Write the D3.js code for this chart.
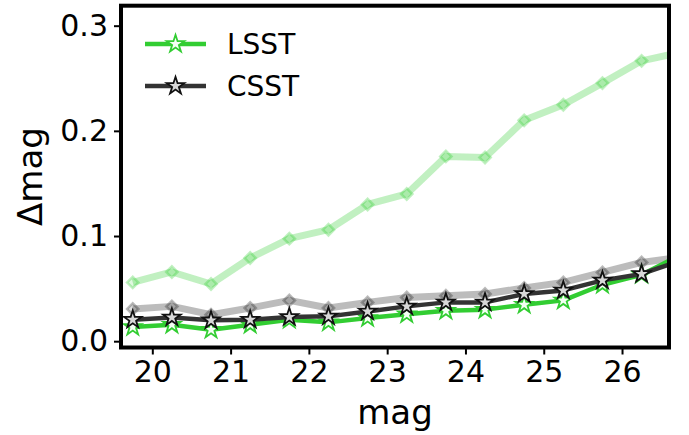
<!DOCTYPE html>
<html>
<head>
<meta charset="utf-8">
<script src="https://cdn.jsdelivr.net/npm/d3@7"></script>
<style>
  body { margin: 0; background: #fff; }
  text { font-family: "DejaVu Sans", sans-serif; fill: #000; }
</style>
</head>
<body>
<svg id="chart" width="689" height="435"></svg>
<script>
// magnitude bins
const mags = [19.75, 20.25, 20.75, 21.25, 21.75, 22.25, 22.75, 23.25, 23.75, 24.25, 24.75, 25.25, 25.75, 26.25, 26.75];
// main series
const lsst = [0.0135, 0.0157, 0.0109, 0.0157, 0.0204, 0.0179, 0.0220, 0.0256, 0.0290, 0.0300, 0.0347, 0.0388, 0.0537, 0.0632, 0.0820];
const csst = [0.0204, 0.0226, 0.0198, 0.0204, 0.0230, 0.0236, 0.0283, 0.0331, 0.0369, 0.0369, 0.0449, 0.0483, 0.0578, 0.0639, 0.0765];
// faded companion series
const lsstFaded = [0.0559, 0.0658, 0.0544, 0.0791, 0.0975, 0.1060, 0.1300, 0.1400, 0.1757, 0.1747, 0.2100, 0.2248, 0.2454, 0.2666, 0.2746];
const csstFaded = [0.0306, 0.0331, 0.0252, 0.0316, 0.0388, 0.0316, 0.0369, 0.0415, 0.0433, 0.0449, 0.0506, 0.0559, 0.0654, 0.0749, 0.0800];
const xTicks = [20, 21, 22, 23, 24, 25, 26];
const yTicks = [0.0, 0.1, 0.2, 0.3];
const legendNames = ["LSST", "CSST"];

const mLeft = 121, mRight = 669, mTop = 5.7, mBottom = 347.5;
const svg = d3.select("#chart");

const x = d3.scaleLinear().domain([19.6, 26.6]).range([mLeft, mRight]);
const y = d3.scaleLinear().domain([-0.006, 0.319]).range([mBottom, mTop]);

svg.append("defs").append("clipPath").attr("id", "clip")
  .append("rect").attr("x", mLeft).attr("y", mTop)
  .attr("width", mRight - mLeft).attr("height", mBottom - mTop);

const plot = svg.append("g").attr("clip-path", "url(#clip)");
const line = d3.line().x((d, i) => x(mags[i])).y(d => y(d));

const diamond = d3.symbol().type(d3.symbolSquare).size(64);
const star = d3.symbol().type(d3.symbolStar).size(95);

// faded series first, alpha on each mark so markers come out darker
function faded(vals, color) {
  plot.append("path").datum(vals).attr("d", line)
    .attr("fill", "none").attr("stroke", color).attr("stroke-width", 7)
    .attr("stroke-linejoin", "round").attr("opacity", 0.3);
  plot.selectAll(null).data(vals).join("path")
    .attr("d", diamond)
    .attr("transform", (d, i) => `translate(${x(mags[i])},${y(d)}) rotate(45)`)
    .attr("fill", color).attr("fill-opacity", 0.15)
    .attr("stroke", color).attr("stroke-opacity", 0.3).attr("stroke-width", 2.5);
}
faded(lsstFaded, "#32cd32");
faded(csstFaded, "#222");

function mainSeries(vals, color, face, edge) {
  plot.append("path").datum(vals).attr("d", line)
    .attr("fill", "none").attr("stroke", color).attr("stroke-width", 4.5)
    .attr("stroke-linejoin", "round");
  plot.selectAll(null).data(vals).join("path")
    .attr("d", star)
    .attr("transform", (d, i) => `translate(${x(mags[i])},${y(d)})`)
    .attr("fill", face).attr("stroke", edge).attr("stroke-width", 1.8);
}
mainSeries(lsst, "#32cd32", "#f4fff4", "#32cd32");
mainSeries(csst, "#333333", "#d8d8d8", "#111111");

// axes
const xAxis = svg.append("g").attr("transform", `translate(0,${mBottom})`)
  .call(d3.axisBottom(x).tickValues(xTicks).tickSize(7).tickPadding(6).tickFormat(d3.format("d")));
const yAxis = svg.append("g").attr("transform", `translate(${mLeft},0)`)
  .call(d3.axisLeft(y).tickValues(yTicks).tickSize(7).tickPadding(6).tickFormat(d3.format(".1f")));
[xAxis, yAxis].forEach(a => {
  a.select(".domain").remove();
  a.selectAll(".tick line").attr("stroke", "#000").attr("stroke-width", 2);
  a.selectAll(".tick text").style("font-size", "30px").attr("fill", "#000");
});

svg.append("rect").attr("x", mLeft).attr("y", mTop)
  .attr("width", mRight - mLeft).attr("height", mBottom - mTop)
  .attr("fill", "none").attr("stroke", "#000").attr("stroke-width", 4);

svg.append("text").attr("x", (mLeft + mRight) / 2).attr("y", 424)
  .attr("text-anchor", "middle").style("font-size", "34px").text("mag");
svg.append("text").attr("transform", `translate(42,${(mTop + mBottom) / 2}) rotate(-90)`)
  .attr("text-anchor", "middle").style("font-size", "34px").text("Δmag");

// legend
const legend = svg.append("g");
const lStyles = [
  { color: "#32cd32", face: "#f4fff4", edge: "#32cd32" },
  { color: "#333333", face: "#d8d8d8", edge: "#111111" }
];
legendNames.forEach((name, i) => {
  const ly = 44 + i * 42;
  legend.append("line").attr("x1", 145).attr("x2", 206).attr("y1", ly).attr("y2", ly)
    .attr("stroke", lStyles[i].color).attr("stroke-width", 4.5);
  legend.append("path").attr("d", star).attr("transform", `translate(175.5,${ly})`)
    .attr("fill", lStyles[i].face).attr("stroke", lStyles[i].edge).attr("stroke-width", 1.8);
  legend.append("text").attr("x", 227).attr("y", ly).attr("dy", "0.36em")
    .style("font-size", "28px").text(name);
});
</script>
</body>
</html>
